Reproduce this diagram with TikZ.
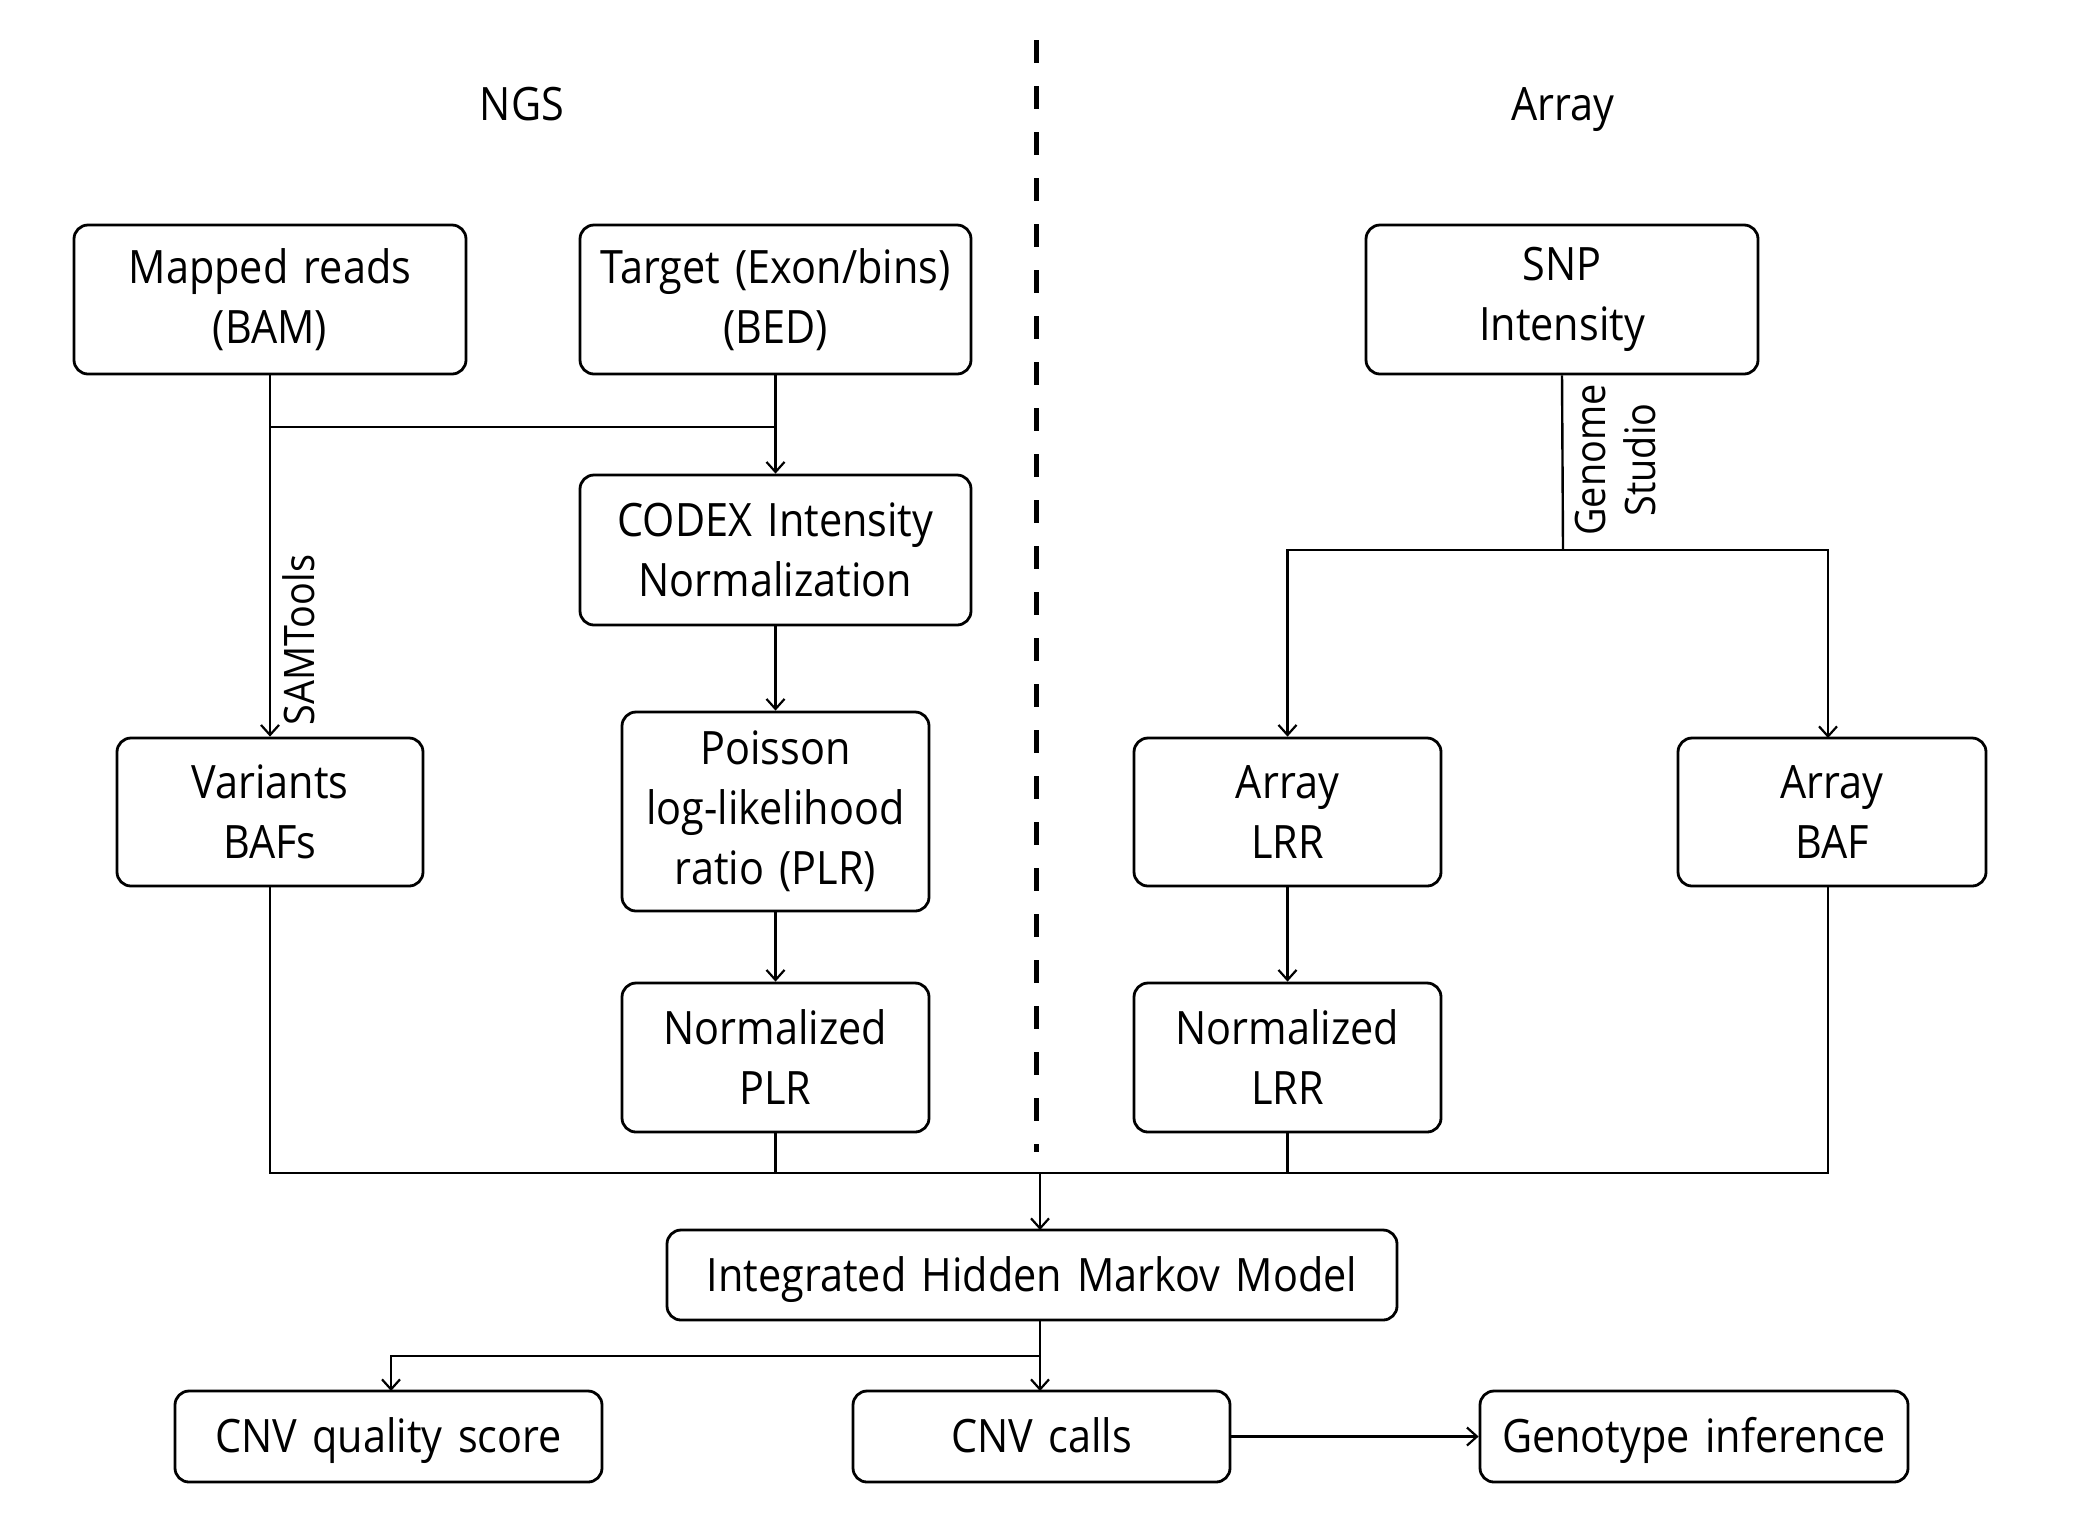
\documentclass[tikz,border=0pt]{standalone}
\usepackage{fontspec}
\setmainfont{Open Sans}[FakeStretch=0.9]
\usetikzlibrary{arrows.meta}
\begin{document}
\begin{tikzpicture}[x=0.5pt,y=-0.5pt,
  box/.style={draw,line width=1.4pt,rounded corners=7pt,align=center,inner sep=0pt,
    font=\fontsize{23}{30}\selectfont},
  single/.style={text height=22pt,text depth=6pt},
  conn/.style={line width=1.2pt},
  arr/.style={conn,-{Straight Barb[length=5pt,width=9pt,line width=1.1pt]}},
  lbl/.style={font=\fontsize{21}{25}\selectfont,align=center,inner sep=0pt},
  head/.style={font=\fontsize{23}{30}\selectfont,inner sep=0pt,anchor=base}]
\useasboundingbox (0,0) rectangle (2080,1532);
\node[head] (ngs) at (522,120) {NGS};
\node[head] (arrayh) at (1563,120) {Array};
\draw[line width=2.5pt,dash pattern=on 11.5pt off 11.5pt] (1036,40) coordinate (dtop) -- (1036,1152) coordinate (dbot);

\node[box,text width=190pt,minimum width=196pt,minimum height=74.5pt] (mapped) at (270,299.5) {Mapped reads\\(BAM)};
\node[box,text width=190pt,minimum width=195.5pt,minimum height=74.5pt] (target) at (775.5,299.5) {Target (Exon/bins)\\(BED)};
\node[box,text width=190pt,minimum width=196pt,minimum height=74.5pt] (snp) at (1562,299.5) {SNP\\Intensity};
\node[box,text width=190pt,minimum width=195.5pt,minimum height=75pt] (codex) at (775.5,550) {CODEX Intensity\\Normalization};
\node[box,text width=150pt,minimum width=153pt,minimum height=74pt] (variants) at (270,812) {Variants\\BAFs};
\node[box,text width=150pt,minimum width=153.5pt,minimum height=99.5pt] (poisson) at (775.5,811.5) {Poisson\\log-likelihood\\ratio (PLR)};
\node[box,text width=150pt,minimum width=153.5pt,minimum height=74.5pt] (nplr) at (775.5,1057.5) {Normalized\\PLR};
\node[box,text width=150pt,minimum width=153.5pt,minimum height=74pt] (alrr) at (1287.5,812) {Array\\LRR};
\node[box,text width=150pt,minimum width=154pt,minimum height=74pt] (abaf) at (1832,812) {Array\\BAF};
\node[box,text width=150pt,minimum width=153.5pt,minimum height=74.5pt] (nlrr) at (1287.5,1057.5) {Normalized\\LRR};
\node[box,single,text width=360pt,minimum width=365pt,minimum height=45pt] (ihmm) at (1032,1275) {Integrated Hidden Markov Model};
\node[box,single,text width=210pt,minimum width=213.5pt,minimum height=45.5pt] (cnvq) at (388.5,1436.5) {CNV quality score};
\node[box,single,text width=185pt,minimum width=188.5pt,minimum height=45.5pt] (cnvc) at (1041.5,1436.5) {CNV calls};
\node[box,single,text width=210pt,minimum width=214pt,minimum height=45.5pt] (geno) at (1694,1436.5) {Genotype inference};

% NGS top connectors
\draw[conn] (mapped.south) -- (270,427) coordinate (jl) -- (775.5,427) coordinate (jr);
\draw[arr] (target.south) -- (codex.north);
\draw[arr] (mapped.south) -- (variants.north);
\node[lbl,rotate=90] (samt) at (299,640) {SAMTools};
\draw[arr] (codex.south) -- (poisson.north);
\draw[arr] (poisson.south) -- (nplr.north);

% Array connectors
\draw[conn] (snp.south) -- (1563,550) coordinate (sj);
\node[lbl,rotate=90] (gs) at (1615,460) {Genome\\Studio};
\draw[arr] (sj) -| (alrr.north);
\draw[arr] (sj) -| (1828,738);
\draw[arr] (alrr.south) -- (nlrr.north);

% merge
\draw[conn] (variants.south) -- (270,1173) coordinate (ml) -- (1828,1173) coordinate (mr) -- (1828,886);
\draw[conn] (nplr.south) -- (775.5,1173);
\draw[conn] (nlrr.south) -- (1287.5,1173);
\draw[arr] (1040,1173) coordinate (mc) -- (1040,1230);

% outputs
\draw[conn] (1040,1320) -- (1040,1356) coordinate (sp);
\draw[arr] (sp) -- (1040,1391);
\draw[arr] (sp) -- (391,1356) -- (391,1391);
\draw[arr] (cnvc.east) -- (geno.west);
\end{tikzpicture}
\end{document}
